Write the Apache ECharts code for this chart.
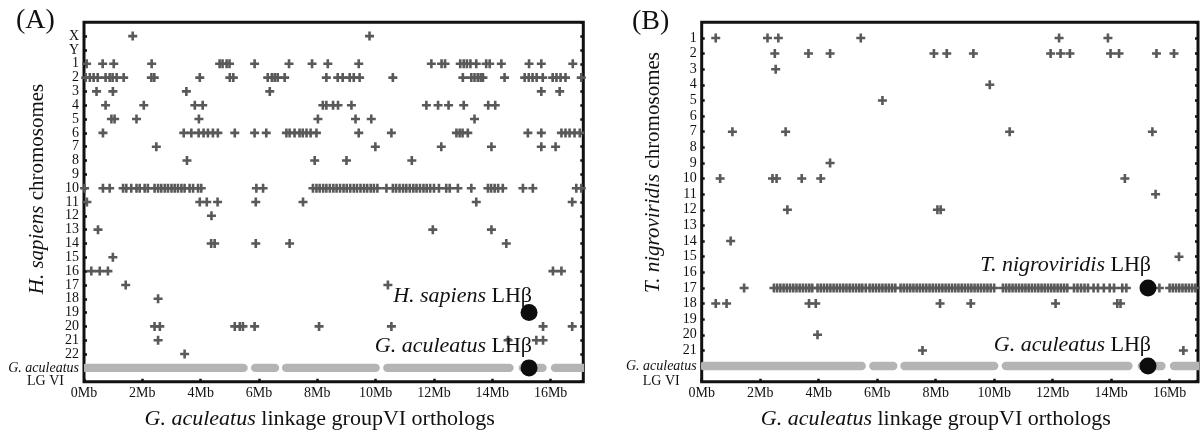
<!DOCTYPE html>
<html><head><meta charset="utf-8">
<script src="https://cdn.jsdelivr.net/npm/echarts/dist/echarts.min.js"></script>
<style>html,body{margin:0;padding:0;background:#fff}#c{width:1201px;height:431px}</style>
</head><body><div id="c"></div>
<script>
// ---------- tick / category labels ----------
const xTickLabels = ['0Mb','2Mb','4Mb','6Mb','8Mb','10Mb','12Mb','14Mb','16Mb'];
const rowsA = ['X','Y','1','2','3','4','5','6','7','8','9','10','11','12','13','14','15','16','17','18','19','20','21','22'];
const rowsB = ['1','2','3','4','5','6','7','8','9','10','11','12','13','14','15','16','17','18','19','20','21'];

// ---------- (A) H. sapiens ortholog positions on G. aculeatus LG VI (Mb) ----------
const hsa_X = [1.67, 9.79];
const hsa_Y = [];
const hsa_1 = [0.09, 0.64, 1.02, 2.32, 4.65, 4.75, 4.89, 4.99, 5.85, 7.03, 7.82, 8.36, 9.42, 11.91, 12.26, 12.38, 12.9, 13.02, 13.13, 13.25, 13.45, 13.79, 13.91, 14.31, 15.26, 15.68, 16.76];
const hsa_2 = [0.06, 0.2, 0.33, 0.47, 0.74, 0.88, 0.98, 1.12, 1.36, 2.31, 2.41, 3.97, 5.0, 5.12, 6.3, 6.44, 6.54, 6.64, 6.88, 8.31, 8.7, 8.87, 9.11, 9.25, 9.45, 10.59, 12.99, 13.28, 13.39, 13.5, 13.6, 13.68, 14.42, 15.11, 15.25, 15.38, 15.52, 15.73, 16.07, 16.2, 16.34, 16.51, 17.05];
const hsa_3 = [0.43, 0.99, 3.51, 6.37, 15.68, 16.31];
const hsa_4 = [0.74, 2.05, 3.8, 4.07, 8.19, 8.31, 8.54, 8.71, 9.17, 11.74, 12.14, 12.5, 13.02, 13.86, 14.1];
const hsa_5 = [0.94, 1.05, 1.8, 3.94, 8.02, 9.31, 9.85, 13.39];
const hsa_6 = [0.65, 3.42, 3.68, 3.93, 4.1, 4.25, 4.42, 4.59, 5.17, 5.85, 6.25, 6.94, 7.05, 7.22, 7.39, 7.5, 7.63, 7.77, 7.97, 9.42, 10.54, 12.77, 12.88, 12.98, 13.16, 15.22, 15.68, 16.37, 16.51, 16.65, 16.82, 17.0];
const hsa_7 = [2.48, 9.99, 12.25, 13.97, 15.68, 16.17];
const hsa_8 = [3.53, 7.91, 9.0, 11.24];
const hsa_9 = [];
const hsa_10 = [0.02, 0.65, 0.88, 1.34, 1.45, 1.62, 1.8, 1.91, 2.08, 2.19, 2.42, 2.54, 2.65, 2.77, 2.88, 3.0, 3.11, 3.22, 3.34, 3.45, 3.62, 3.74, 3.91, 4.02, 5.91, 6.14, 7.85, 7.97, 8.08, 8.2, 8.31, 8.43, 8.55, 8.66, 8.78, 8.9, 9.01, 9.13, 9.25, 9.36, 9.48, 9.6, 9.71, 9.83, 9.94, 10.06, 10.37, 10.59, 10.7, 10.82, 10.94, 11.05, 11.17, 11.29, 11.4, 11.52, 11.64, 11.75, 11.87, 12.0, 12.17, 12.42, 12.54, 12.82, 13.28, 13.85, 13.96, 14.08, 14.2, 14.36, 15.05, 15.39, 16.88, 17.05];
const hsa_11 = [0.1, 3.97, 4.21, 4.58, 5.89, 7.51, 13.45, 16.74];
const hsa_12 = [4.37];
const hsa_13 = [0.48, 11.96, 13.97];
const hsa_14 = [4.36, 4.48, 5.89, 7.05, 14.48];
const hsa_15 = [0.99];
const hsa_16 = [0.25, 0.54, 0.82, 16.08, 16.37];
const hsa_17 = [1.43, 10.42];
const hsa_18 = [2.54];
const hsa_19 = [];
const hsa_20 = [2.42, 2.6, 5.17, 5.34, 5.45, 5.85, 8.06, 10.54, 15.74, 16.74];
const hsa_21 = [2.54, 14.54, 15.51, 15.74];
const hsa_22 = [3.45];

// ---------- (B) T. nigroviridis ortholog positions (Mb) ----------
const tni_1 = [0.48, 2.25, 2.62, 5.44, 12.22, 13.89];
const tni_2 = [2.5, 3.65, 4.39, 7.94, 8.38, 9.29, 11.93, 12.27, 12.59, 13.98, 14.27, 15.55, 16.15];
const tni_3 = [2.53];
const tni_4 = [9.85];
const tni_5 = [6.18];
const tni_6 = [];
const tni_7 = [1.05, 2.87, 10.53, 15.41];
const tni_8 = [];
const tni_9 = [4.39];
const tni_10 = [0.63, 2.42, 2.56, 3.42, 4.07, 14.47];
const tni_11 = [15.52];
const tni_12 = [2.93, 8.06, 8.17];
const tni_13 = [];
const tni_14 = [0.99];
const tni_15 = [16.32];
const tni_16 = [];
const tni_17 = [1.45, 2.47, 2.58, 2.69, 2.8, 2.91, 3.02, 3.13, 3.24, 3.35, 3.46, 3.57, 3.68, 3.78,
  3.96, 4.07, 4.18, 4.29, 4.4, 4.51, 4.62, 4.73, 4.84, 4.95, 5.06, 5.17, 5.28, 5.39, 5.49, 5.61,
  5.74, 5.85, 5.96, 6.07, 6.18, 6.29, 6.4, 6.51, 6.62,
  6.8, 6.91, 7.02, 7.13, 7.24, 7.35, 7.46, 7.57, 7.68, 7.79, 7.9, 8.01, 8.12, 8.23, 8.34, 8.45, 8.56, 8.67, 8.78, 8.89, 9.0, 9.11, 9.22, 9.33, 9.44, 9.55, 9.66, 9.77, 9.88, 10.0,
  10.3, 10.41, 10.52, 10.63, 10.74, 10.85, 10.96, 11.07, 11.18, 11.29, 11.4, 11.51, 11.62, 11.73, 11.84, 11.95, 12.06, 12.17, 12.28, 12.39, 12.5,
  12.73, 12.85, 12.97, 13.09, 13.21, 13.4, 13.55, 13.75, 13.95, 14.1, 14.38, 14.52, 15.65,
  16.0, 16.11, 16.22, 16.33, 16.44, 16.55, 16.66, 16.77, 16.88, 17.0];
const tni_18 = [0.48, 0.85, 3.67, 3.9, 8.15, 9.2, 12.1, 14.21, 14.32];
const tni_19 = [];
const tni_20 = [3.96];
const tni_21 = [7.55, 16.47];

// ---------- G. aculeatus LG VI gene blocks (Mb start, end) ----------
const lg6Blocks = [[0.06, 5.47], [5.87, 6.55], [6.93, 10.0], [10.4, 14.59], [15.05, 15.72], [16.15, 17.1]];
// LHβ location on LG VI (Mb)
const lhbMb = 15.26;

// ---------- build ----------
const FONT = '"Liberation Serif", "Times New Roman", serif';
const hsaRows = [hsa_X, hsa_Y, hsa_1, hsa_2, hsa_3, hsa_4, hsa_5, hsa_6, hsa_7, hsa_8, hsa_9, hsa_10, hsa_11, hsa_12, hsa_13, hsa_14, hsa_15, hsa_16, hsa_17, hsa_18, hsa_19, hsa_20, hsa_21, hsa_22];
const tniRows = [tni_1, tni_2, tni_3, tni_4, tni_5, tni_6, tni_7, tni_8, tni_9, tni_10, tni_11, tni_12, tni_13, tni_14, tni_15, tni_16, tni_17, tni_18, tni_19, tni_20, tni_21];

function pts(rows) {
  const out = [];
  rows.forEach((arr, i) => arr.forEach(v => out.push([v, i + 1])));
  return out;
}
const gRowA = rowsA.length + 1, gRowB = rowsB.length + 1;
const PLUS = 'path://M3.2,0H5.8V3.2H9V5.8H5.8V9H3.2V5.8H0V3.2H3.2Z';

// kind: 'main' (row labels + ticks, left), 'lg' (only the LG VI label, left), 'right' (ticks only)
function yAxisFor(gridIndex, rows, kind) {
  const gRow = rows.length + 1;
  return {
    type: 'value', gridIndex, position: kind === 'right' ? 'right' : 'left', offset: 0,
    inverse: true, min: 0, max: gRow + 1, interval: 1,
    axisLine: { show: false, onZero: false }, splitLine: { show: false },
    axisTick: { show: kind !== 'lg', inside: true, length: 3, lineStyle: { color: '#111', width: 2.5 } },
    axisLabel: {
      show: kind !== 'right', margin: 5, fontFamily: FONT, fontSize: 14, color: '#111',
      showMinLabel: false, showMaxLabel: kind === 'lg', hideOverlap: false,
      formatter: v => {
        const k = Math.round(v);
        if (kind === 'lg') return k === gRow + 1 ? '{lg|LG VI}' : '';
        if (k >= 1 && k <= rows.length) return rows[k - 1];
        if (k === gRow) return '{i|G. aculeatus}';
        return '';
      },
      rich: {
        i: { fontFamily: FONT, fontSize: 14, fontStyle: 'italic', color: '#111' },
        lg: { fontFamily: FONT, fontSize: 14, color: '#111', padding: [0, gridIndex === 0 ? 15 : 17, 0, 0] }
      }
    }
  };
}
function xAxisFor(gridIndex, max) {
  return {
    type: 'value', gridIndex, position: 'bottom', min: 0, max, interval: 2,
    axisLine: { show: false, onZero: false }, splitLine: { show: false },
    axisTick: { show: true, inside: true, length: 3, lineStyle: { color: '#111', width: 2.5 } },
    axisLabel: { margin: 5, fontFamily: FONT, fontSize: 14, color: '#111', showMaxLabel: false,
      formatter: v => { const k = Math.round(v / 2); return (Math.abs(v - k * 2) < 1e-6 && k < xTickLabels.length) ? xTickLabels[k] : ''; } },
    name: '{i|G. aculeatus} linkage groupVI orthologs', nameLocation: 'middle', nameGap: 26.5,
    nameTextStyle: { fontFamily: FONT, fontSize: 22, color: '#111', padding: [0, 28, 0, 0],
      rich: { i: { fontFamily: FONT, fontSize: 22, fontStyle: 'italic', color: '#111' } } }
  };
}
function blockSeries(xi, yi, gRow) {
  return {
    type: 'custom', xAxisIndex: xi, yAxisIndex: yi, z: 1, clip: true, silent: true,
    data: lg6Blocks.map(b => [b[0], b[1], gRow]),
    encode: { x: [0, 1], y: 2 },
    renderItem: (params, api) => {
      const s = api.coord([api.value(0), api.value(2)]);
      const e = api.coord([api.value(1), api.value(2)]);
      const r = 4.2;
      return { type: 'rect', shape: { x: s[0] - r, y: s[1] - r, width: e[0] - s[0] + 2 * r, height: 2 * r, r: r },
        style: { fill: '#b4b4b4' } };
    }
  };
}
function lbl(text, py) {
  return { show: true, formatter: text, position: [11.5, py], align: 'right', verticalAlign: 'middle',
    fontFamily: FONT, fontSize: 22, color: '#111',
    rich: { i: { fontFamily: FONT, fontSize: 22, fontStyle: 'italic', color: '#111' } } };
}

const chart = echarts.init(document.getElementById('c'), null, { renderer: 'canvas' });
chart.setOption({
  animation: false,
  backgroundColor: '#fff',
  grid: [
    { left: 84, top: 22.3, width: 499.3, height: 359.4, show: true, borderColor: '#111', borderWidth: 3, backgroundColor: 'transparent', containLabel: false, outerBoundsMode: 'none' },
    { left: 701.7, top: 22.3, width: 496.3, height: 359.4, show: true, borderColor: '#111', borderWidth: 3, backgroundColor: 'transparent', containLabel: false, outerBoundsMode: 'none' }
  ],
  xAxis: [xAxisFor(0, 17.12), xAxisFor(1, 16.97)],
  yAxis: [
    yAxisFor(0, rowsA, 'main'), yAxisFor(0, rowsA, 'right'), yAxisFor(0, rowsA, 'lg'),
    yAxisFor(1, rowsB, 'main'), yAxisFor(1, rowsB, 'right'), yAxisFor(1, rowsB, 'lg')
  ],
  series: [
    blockSeries(0, 0, gRowA),
    blockSeries(1, 3, gRowB),
    { type: 'scatter', xAxisIndex: 0, yAxisIndex: 0, symbol: PLUS, symbolSize: 9, z: 2, silent: true,
      itemStyle: { color: '#595959', opacity: 1 }, data: pts(hsaRows) },
    { type: 'scatter', xAxisIndex: 1, yAxisIndex: 3, symbol: PLUS, symbolSize: 9, z: 2, silent: true,
      itemStyle: { color: '#595959', opacity: 1 }, data: pts(tniRows) },
    { type: 'scatter', xAxisIndex: 0, yAxisIndex: 0, symbol: 'circle', symbolSize: 17, z: 3, silent: true,
      itemStyle: { color: '#0d0d0d', opacity: 1 },
      data: [
        { value: [lhbMb, rowsA.indexOf('19') + 1], label: lbl('{i|H. sapiens} LHβ', -8.2) },
        { value: [lhbMb, gRowA], label: lbl('{i|G. aculeatus} LHβ', -13.2) }
      ] },
    { type: 'scatter', xAxisIndex: 1, yAxisIndex: 3, symbol: 'circle', symbolSize: 17, z: 3, silent: true,
      itemStyle: { color: '#0d0d0d', opacity: 1 },
      data: [
        { value: [lhbMb, rowsB.indexOf('17') + 1], label: lbl('{i|T. nigroviridis} LHβ', -14.2) },
        { value: [lhbMb, gRowB], label: lbl('{i|G. aculeatus} LHβ', -12.8) }
      ] }
  ],
  graphic: [
    { type: 'text', left: 16, top: 7, style: { text: '(A)', fontFamily: FONT, fontSize: 28, fill: '#111' } },
    { type: 'text', left: 632, top: 8, style: { text: '(B)', fontFamily: FONT, fontSize: 28, fill: '#111' } },
    { type: 'text', x: 37, y: 189, rotation: Math.PI / 2,
      style: { text: '{i|H. sapiens} chromosomes', fontFamily: FONT, fontSize: 21, fill: '#111', align: 'center', verticalAlign: 'middle',
        rich: { i: { fontFamily: FONT, fontSize: 21, fontStyle: 'italic', fill: '#111' } } } },
    { type: 'text', x: 653, y: 172.5, rotation: Math.PI / 2,
      style: { text: '{i|T. nigroviridis} chromosomes', fontFamily: FONT, fontSize: 21, fill: '#111', align: 'center', verticalAlign: 'middle',
        rich: { i: { fontFamily: FONT, fontSize: 21, fontStyle: 'italic', fill: '#111' } } } }
  ]
});
</script></body></html>
